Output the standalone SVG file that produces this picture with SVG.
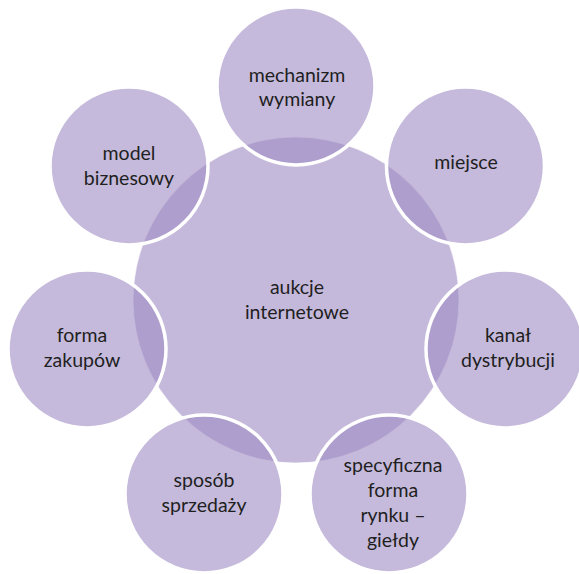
<svg xmlns="http://www.w3.org/2000/svg" width="579" height="574" viewBox="0 0 579 574">
<style>
.bg{fill:#fff}
.hub{fill:#C5B9DB;stroke:#fff;stroke-opacity:0.6;stroke-width:1.2}
.sat{fill:#9E8CC3;fill-opacity:0.6;stroke:#fff;stroke-width:3.5}
text{font-family:Lato,"Liberation Sans",sans-serif;font-size:19.5px;fill:#1f1f1f;text-anchor:middle}
</style>
<rect class="bg" width="579" height="574"/>
<g id="connectors"></g>
<g id="hub"><circle class="hub" cx="296" cy="300" r="163"/><text x="297" y="294">aukcje</text><text x="297" y="319">internetowe</text></g>
<g id="n1"><circle class="sat" cx="296" cy="86" r="79"/><text x="297" y="82">mechanizm</text><text x="297" y="106">wymiany</text></g>
<g id="n2"><circle class="sat" cx="465.5" cy="166" r="79"/><text x="466" y="169">miejsce</text></g>
<g id="n3"><circle class="sat" cx="505" cy="349" r="79"/><text x="508" y="342">kanał</text><text x="508" y="367">dystrybucji</text></g>
<g id="n4"><circle class="sat" cx="389" cy="494" r="79"/><text x="393" y="472">specyficzna</text><text x="393" y="497">forma</text><text x="393" y="522">rynku –</text><text x="393" y="547">giełdy</text></g>
<g id="n5"><circle class="sat" cx="204" cy="494" r="79"/><text x="204" y="487">sposób</text><text x="204" y="512">sprzedaży</text></g>
<g id="n6"><circle class="sat" cx="87" cy="349" r="79"/><text x="82" y="342">forma</text><text x="82" y="367">zakupów</text></g>
<g id="n7"><circle class="sat" cx="129" cy="166" r="79"/><text x="129" y="160">model</text><text x="129" y="185">biznesowy</text></g>
</svg>
